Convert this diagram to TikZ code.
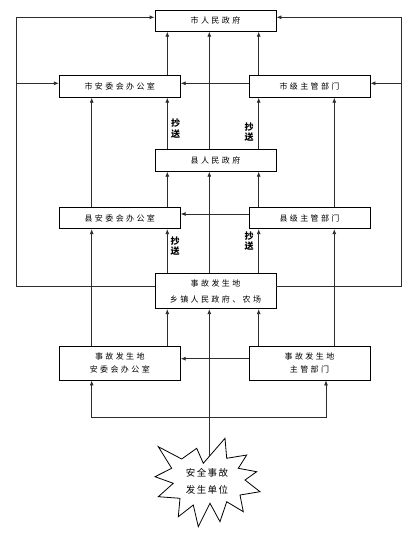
\documentclass[tikz,border=0pt]{standalone}
\usepackage{fontspec}
\usetikzlibrary{arrows.meta}
\newfontfamily\cjk[LetterSpace=30]{Noto Sans CJK SC}
\newfontfamily\cjkplain{Noto Sans CJK SC}
\newfontfamily\cjkstar[LetterSpace=15]{Noto Sans CJK SC}
\definecolor{linec}{RGB}{45,45,45}
\begin{document}
\begin{tikzpicture}[x=1pt,y=-1pt,
  box/.style={draw=black, line width=0.8pt, minimum width=121pt, inner sep=0pt,
    font=\cjk\fontsize{8}{13}\selectfont, align=center},
  arr/.style={draw=linec, line width=0.8pt, -{Latex[length=5pt,width=4pt]}},
  ln/.style={draw=linec, line width=0.8pt},
  cs/.style={font=\cjkplain\bfseries\fontsize{9}{10.5}\selectfont, align=center, inner sep=0pt}]
\useasboundingbox (0,0) rectangle (413,533);
\fill[white] (0,0) rectangle (413,533);

% boxes
\node[box, minimum height=21pt] (sz) at (215.5,20.8) {市人民政府};
\node[box, minimum height=22pt] (sa) at (119.8,86.3) {市安委会办公室};
\node[box, minimum height=22pt] (sj) at (309.5,86.3) {市级主管部门};
\node[box, minimum height=22pt] (xz) at (215.5,160.3) {县人民政府};
\node[box, minimum height=21pt] (xa) at (119.8,218.2) {县安委会办公室};
\node[box, minimum height=21pt] (xj) at (309.5,218.2) {县级主管部门};
\node[box, minimum height=35.4pt] (tz) at (215.5,291) {事故发生地\\[3pt]乡镇人民政府、农场};
\node[box, minimum height=34pt] (ta) at (119.8,363) {事故发生地\\安委会办公室};
\node[box, minimum height=34pt] (tj) at (309.5,363) {事故发生地\\主管部门};

% columns and rows
\coordinate (cL) at (16.7,0);
\coordinate (cR) at (401.3,0);
\coordinate (c1) at (91.7,0);
\coordinate (c2) at (167.3,0);
\coordinate (c3) at (209.3,0);
\coordinate (c4) at (258.7,0);
\coordinate (c5) at (334.3,0);
\coordinate (c6) at (326,0);
\coordinate (r1) at (0,17.3);
\coordinate (r2) at (0,83.3);
\coordinate (r3) at (0,214);
\coordinate (r4) at (0,286);
\coordinate (r5) at (0,358.7);
\coordinate (r6) at (0,417.3);

% outer loops
\draw[arr] (tz.west |- r4) -- (cL |- r4) -- (cL |- r1) -- (sz.west |- r1);
\draw[arr] (cL |- r2) -- (sa.west |- r2);
\draw[arr] (tz.east |- r4) -- (cR |- r4) -- (cR |- r1) -- (sz.east |- r1);
\draw[arr] (cR |- r2) -- (sj.east |- r2);

% horizontals between side boxes
\draw[arr] (sj.west |- r2) -- (sa.east |- r2);
\draw[arr] (xj.west |- r3) -- (xa.east |- r3);
\draw[arr] (tj.west |- r5) -- (ta.east |- r5);

% into city government
\draw[arr] (sa.north -| c2) -- (sz.south -| c2);
\draw[arr] (xz.north -| c3) -- (sz.south -| c3);
\draw[arr] (sj.north -| c4) -- (sz.south -| c4);

% into city boxes
\draw[arr] (xa.north -| c1) -- (sa.south -| c1);
\draw[arr] (xz.north -| c2) -- (sa.south -| c2);
\draw[arr] (xz.north -| c4) -- (sj.south -| c4);
\draw[arr] (xj.north -| c5) -- (sj.south -| c5);

% into county government
\draw[arr] (xa.north -| c2) -- (xz.south -| c2);
\draw[arr] (tz.north -| c3) -- (xz.south -| c3);
\draw[arr] (xj.north -| c4) -- (xz.south -| c4);

% into county boxes
\draw[arr] (ta.north -| c1) -- (xa.south -| c1);
\draw[arr] (tz.north -| c2) -- (xa.south -| c2);
\draw[arr] (tz.north -| c4) -- (xj.south -| c4);
\draw[arr] (tj.north -| c5) -- (xj.south -| c5);

% into township
\draw[arr] (ta.north -| c2) -- (tz.south -| c2);
\draw[arr] (tj.north -| c4) -- (tz.south -| c4);

% starburst
\draw[line width=0.8pt, fill=white] (158.3,446.7) -- (181.7,459) -- (196.7,448.3) -- (203.3,463.3)
  -- (225,438.3) -- (226.7,458.3) -- (246.7,455) -- (238.3,468.3) -- (256.7,471.7)
  -- (245,480) -- (260,491.7) -- (240,495) -- (243.3,511.7) -- (226.7,501.7)
  -- (220,521.7) -- (210,503.3) -- (198.3,526.7) -- (193.3,505) -- (178.3,516.7)
  -- (180,498.3) -- (158.3,496.7) -- (173.3,483.3) -- (155,476.7) -- (171.7,468.3) -- cycle;
\node[font=\cjkstar\fontsize{9.5}{17}\selectfont, align=center, inner sep=0pt] (star) at (207,481) {安全事故\\发生单位};
\coordinate (startop) at (209.3,456.4);
\coordinate (j) at (c3 |- r6);
\draw[arr] (startop) -- (tz.south -| c3);
\draw[arr] (j) -| (ta.south -| c1);
\draw[arr] (j) -| (tj.south -| c6);

% copy labels
\node[cs] (cs1) at (175.5,128.5) {抄\\送};
\node[cs] (cs2) at (249,132) {抄\\送};
\node[cs] (cs3) at (175,246) {抄\\送};
\node[cs] (cs4) at (249,241) {抄\\送};
\end{tikzpicture}
\end{document}
